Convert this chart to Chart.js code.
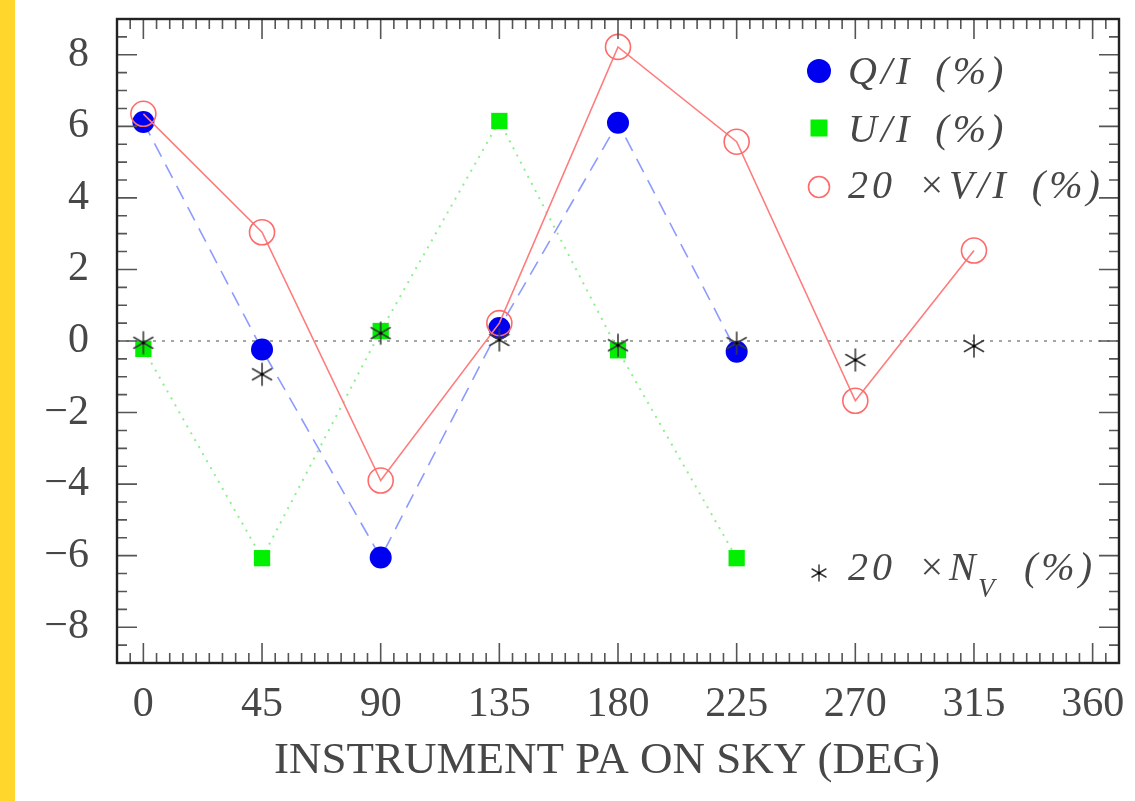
<!DOCTYPE html>
<html>
<head>
<meta charset="utf-8">
<script src="https://cdn.jsdelivr.net/npm/chart.js@4.4.0/dist/chart.umd.min.js"></script>
<style>
  html, body { margin: 0; padding: 0; background: #ffffff; }
  #wrap { position: relative; width: 1135px; height: 801px; overflow: hidden; }
  #strip { position: absolute; left: 0; top: 0; width: 15px; height: 801px; background: #fed62c; }
  #c { position: absolute; left: 0; top: 0; }
</style>
</head>
<body>
<div id="wrap">
  <div id="strip"></div>
  <canvas id="c" width="1135" height="801"></canvas>
</div>
<script>
// Instrument position angles (deg)
const angles = [0, 45, 90, 135, 180, 225, 270, 315];
// Q/I and U/I (%) measured at the first six angles
const qOverI = [6.12, -0.24, -6.05, 0.36, 6.10, -0.30];
const uOverI = [-0.22, -6.07, 0.28, 6.15, -0.26, -6.07];
// 20 x V/I (%) and 20 x null (%) at all eight angles
const vOverI20 = [6.35, 3.04, -3.90, 0.50, 8.22, 5.57, -1.67, 2.53];
const nullV20 = [-0.05, -0.93, 0.22, 0.03, -0.12, -0.06, -0.53, -0.14];
// Axis labels
const xTicks = [0, 45, 90, 135, 180, 225, 270, 315, 360];
const yTicks = [-8, -6, -4, -2, 0, 2, 4, 6, 8];

const SERIF = "'Liberation Serif', 'DejaVu Serif', serif";
const INK = '#474747';

function pairs(vals) {
  return vals.map((v, i) => ({ x: angles[i], y: v }));
}

// Six-armed asterisk used as a marker
function asteriskImage(r, lw) {
  const s = Math.ceil(2 * r + 4);
  const cv = document.createElement('canvas');
  cv.width = s; cv.height = s;
  const g = cv.getContext('2d');
  const c = s / 2;
  g.strokeStyle = '#3a3a3a';
  g.lineWidth = lw;
  g.lineCap = 'round';
  [90, 30, 150].forEach(deg => {
    const a = deg * Math.PI / 180;
    g.beginPath();
    g.moveTo(c - r * Math.cos(a), c - r * Math.sin(a));
    g.lineTo(c + r * Math.cos(a), c + r * Math.sin(a));
    g.stroke();
  });
  g.fillStyle = '#000';
  g.beginPath(); g.arc(c, c, lw, 0, Math.PI * 2); g.fill();
  return cv;
}
const starMark = asteriskImage(11, 1.6);
const starLegend = asteriskImage(8, 1.5);

const fmt = v => (v < 0 ? '\u2212' + Math.abs(v) : String(v));

// Zero line, boxed frame with inward major/minor ticks, legend and x title
const framePlugin = {
  id: 'frameTicks',
  beforeDatasetsDraw(chart) {
    const { ctx, chartArea: a, scales: { y } } = chart;
    const y0 = y.getPixelForValue(0);
    ctx.save();
    ctx.strokeStyle = '#a5a5a5';
    ctx.lineWidth = 2;
    ctx.setLineDash([3, 6]);
    ctx.beginPath(); ctx.moveTo(a.left, y0); ctx.lineTo(a.right, y0); ctx.stroke();
    ctx.restore();
  },
  afterDraw(chart) {
    const { ctx, chartArea: a, scales: { x, y } } = chart;
    ctx.save();
    ctx.strokeStyle = '#555';
    ctx.lineWidth = 1.6;
    ctx.beginPath();
    for (let d = x.min + 5; d < x.max; d += 5) {
      const px = x.getPixelForValue(d);
      const len = (d % 45 === 0) ? 20 : 10;
      ctx.moveTo(px, a.bottom); ctx.lineTo(px, a.bottom - len);
      ctx.moveTo(px, a.top); ctx.lineTo(px, a.top + len);
    }
    for (let v = y.min + 0.5; v < y.max - 0.01; v += 0.5) {
      const py = y.getPixelForValue(v);
      const len = (Math.abs(v % 2) < 1e-6) ? 20 : 10;
      ctx.moveTo(a.left, py); ctx.lineTo(a.left + len, py);
      ctx.moveTo(a.right, py); ctx.lineTo(a.right - len, py);
    }
    ctx.stroke();
    ctx.strokeStyle = '#222';
    ctx.lineWidth = 2.4;
    ctx.strokeRect(a.left, a.top, a.right - a.left, a.bottom - a.top);

    // x-axis title
    ctx.fillStyle = INK;
    ctx.font = '45px ' + SERIF;
    ctx.textAlign = 'center';
    ctx.textBaseline = 'alphabetic';
    ctx.fillText('INSTRUMENT PA ON SKY (DEG)', 607, 773);

    // legend
    const lx = 819, tx = 848;
    ctx.fillStyle = '#0000f0';
    ctx.beginPath(); ctx.arc(lx, 71, 12, 0, Math.PI * 2); ctx.fill();
    ctx.fillStyle = '#00f000';
    ctx.fillRect(lx - 8.5, 128 - 8.5, 17, 17);
    ctx.strokeStyle = '#ff6a6a';
    ctx.lineWidth = 1.6;
    ctx.beginPath(); ctx.arc(lx, 187, 10.5, 0, Math.PI * 2); ctx.stroke();
    ctx.drawImage(starLegend, lx - starLegend.width / 2, 573 - starLegend.height / 2);

    ctx.fillStyle = INK;
    ctx.textAlign = 'left';
    ctx.letterSpacing = '4px';
    ctx.wordSpacing = '8px';
    const big = 'italic 40px ' + SERIF;
    const sub = 'italic 27px ' + SERIF;
    ctx.font = big;
    ctx.fillText('Q/I (%)', tx, 84);
    ctx.fillText('U/I (%)', tx, 142);
    ctx.fillText('20 \u00d7V/I (%)', tx, 198);
    ctx.fillText('20 \u00d7N', tx, 580);
    ctx.font = sub;
    ctx.fillText('V', 978, 597);
    ctx.font = big;
    ctx.fillText('(%)', 1024, 580);
    ctx.restore();
  }
};

new Chart(document.getElementById('c'), {
  type: 'line',
  data: {
    datasets: [
      {
        label: '20 \u00d7N_V (%)',
        data: pairs(nullV20),
        showLine: false,
        pointStyle: starMark,
        pointRadius: 11,
        order: 0
      },
      {
        label: '20 \u00d7V/I (%)',
        data: pairs(vOverI20),
        borderColor: '#ff7c7c',
        borderWidth: 1.6,
        pointStyle: 'circle',
        pointRadius: 12.5,
        pointBorderWidth: 1.6,
        pointBorderColor: '#ff6a6a',
        pointBackgroundColor: 'rgba(255,255,255,0)',
        order: 1
      },
      {
        label: 'Q/I (%)',
        data: pairs(qOverI),
        borderColor: '#8d9bff',
        borderWidth: 1.6,
        borderDash: [15, 9],
        pointStyle: 'circle',
        pointRadius: 11,
        pointBorderWidth: 0,
        pointBackgroundColor: '#0000f0',
        order: 2
      },
      {
        label: 'U/I (%)',
        data: pairs(uOverI),
        borderColor: '#8cf08c',
        borderWidth: 2,
        borderDash: [2, 6],
        pointStyle: 'rect',
        pointRadius: 11.5,
        pointBorderWidth: 0,
        pointBackgroundColor: '#00f000',
        order: 3
      }
    ]
  },
  options: {
    responsive: false,
    devicePixelRatio: 1,
    animation: false,
    layout: { padding: { top: 19, right: 16, left: 0, bottom: 0 } },
    plugins: { legend: { display: false }, tooltip: { enabled: false } },
    elements: { line: { tension: 0 } },
    scales: {
      x: {
        type: 'linear',
        min: -10,
        max: 370,
        grid: { display: false },
        border: { display: false },
        afterBuildTicks: s => { s.ticks = xTicks.map(v => ({ value: v })); },
        afterFit: s => { s.height = 138; s.paddingLeft = 0; s.paddingRight = 0; },
        ticks: {
          autoSkip: false,
          maxRotation: 0,
          padding: 9,
          color: INK,
          font: { family: SERIF, size: 42 },
          callback: fmt
        }
      },
      y: {
        type: 'linear',
        min: -9,
        max: 9,
        grid: { display: false },
        border: { display: false },
        afterBuildTicks: s => { s.ticks = yTicks.map(v => ({ value: v })); },
        afterFit: s => { s.width = 117; s.paddingTop = 0; s.paddingBottom = 0; },
        ticks: {
          autoSkip: false,
          padding: 20,
          color: INK,
          font: { family: SERIF, size: 42 },
          callback: fmt
        }
      }
    }
  },
  plugins: [framePlugin]
});
</script>
</body>
</html>
